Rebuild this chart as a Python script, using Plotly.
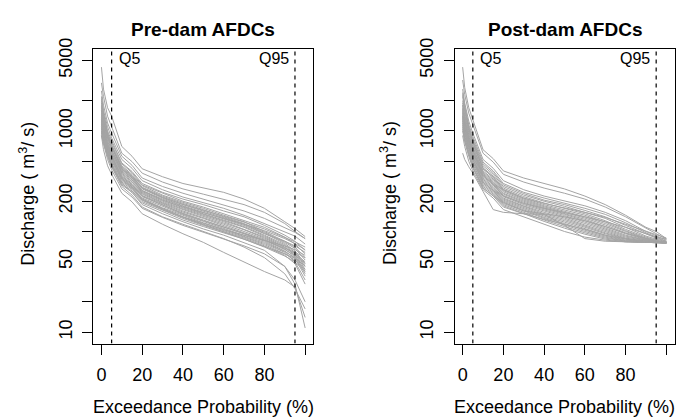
import plotly.graph_objects as go

# Exceedance probability (%) at which each curve is sampled
EXCEEDANCE = [0, 1, 3, 5, 10, 15, 20, 30, 40, 50, 60, 70, 80, 90, 95, 100]

# Pre-dam annual flow duration curves (discharge, m3/s)
PRE_DAM = [
    [4300, 2600, 1700, 1400, 700, 560, 420, 350, 300, 270, 245, 210, 170, 125, 107, 89],
    [3000, 2200, 1400, 1100, 600, 495, 380, 310, 265, 235, 210, 185, 155, 120, 100, 85],
    [2500, 1800, 1200, 950, 560, 455, 340, 280, 240, 210, 185, 160, 135, 110, 98, 85],
    [2200, 1600, 1100, 850, 520, 425, 320, 260, 220, 195, 170, 145, 120, 100, 90, 75],
    [2000, 1500, 1000, 800, 480, 395, 300, 245, 210, 185, 160, 140, 115, 92, 80, 65],
    [1900, 1400, 950, 760, 470, 385, 290, 240, 200, 175, 150, 130, 110, 88, 75, 60],
    [1800, 1300, 900, 720, 450, 370, 285, 230, 195, 170, 145, 125, 100, 80, 70, 55],
    [1700, 1250, 880, 700, 440, 360, 275, 225, 190, 165, 140, 120, 98, 78, 68, 52],
    [1600, 1200, 850, 680, 420, 350, 270, 220, 185, 160, 138, 118, 96, 76, 64, 48],
    [1500, 1150, 820, 650, 410, 340, 265, 215, 180, 155, 135, 115, 95, 80, 72, 62],
    [1450, 1100, 790, 630, 400, 330, 255, 210, 178, 150, 130, 112, 92, 74, 62, 45],
    [1400, 1050, 760, 610, 390, 325, 250, 205, 172, 148, 128, 110, 90, 72, 60, 42],
    [1350, 1000, 740, 600, 380, 315, 245, 200, 168, 145, 125, 105, 88, 70, 58, 40],
    [1300, 980, 720, 580, 370, 310, 240, 195, 165, 142, 122, 104, 86, 69, 60, 50],
    [1250, 950, 700, 560, 360, 300, 235, 192, 160, 138, 118, 100, 84, 67, 56, 38],
    [1200, 920, 680, 540, 350, 293, 228, 188, 156, 135, 115, 98, 82, 66, 58, 48],
    [1150, 900, 660, 520, 340, 285, 222, 183, 152, 130, 112, 95, 80, 64, 54, 36],
    [1100, 870, 640, 500, 330, 276, 215, 178, 148, 126, 108, 92, 78, 63, 55, 45],
    [1050, 840, 620, 480, 320, 268, 210, 172, 145, 122, 105, 90, 76, 62, 50, 33],
    [1000, 800, 600, 460, 310, 262, 205, 168, 140, 118, 102, 88, 74, 60, 52, 42],
    [950, 780, 580, 450, 300, 253, 198, 162, 135, 115, 100, 86, 72, 58, 48, 30],
    [900, 750, 560, 440, 290, 245, 192, 158, 130, 112, 97, 84, 70, 57, 50, 40],
    [1300, 950, 650, 520, 330, 270, 205, 165, 138, 117, 99, 85, 72, 60, 54, 46],
    [1600, 1100, 720, 560, 340, 278, 210, 168, 140, 120, 104, 92, 82, 72, 66, 58],
    [2100, 1500, 950, 720, 420, 340, 255, 205, 175, 155, 135, 118, 102, 85, 76, 66],
    [1750, 1300, 880, 690, 430, 355, 270, 218, 186, 162, 142, 124, 106, 88, 79, 70],
    [1350, 1000, 700, 550, 350, 292, 225, 182, 150, 128, 110, 95, 82, 68, 62, 55],
    [900, 650, 450, 370, 240, 197, 150, 118, 95, 78, 62, 50, 40, 33, 28, 14],
    [1100, 800, 560, 440, 280, 230, 175, 140, 118, 100, 85, 70, 55, 38, 27, 17],
    [1000, 750, 520, 410, 265, 220, 170, 138, 115, 98, 84, 72, 60, 45, 33, 20],
    [1200, 880, 600, 470, 300, 245, 185, 150, 125, 106, 92, 78, 65, 45, 30, 11],
]

# Post-dam annual flow duration curves (discharge, m3/s)
POST_DAM = [
    [4300, 2700, 1700, 1300, 650, 530, 400, 340, 300, 265, 225, 185, 145, 110, 100, 85],
    [3200, 2300, 1500, 1150, 600, 490, 370, 310, 270, 240, 210, 175, 140, 108, 95, 84],
    [2600, 1900, 1250, 950, 520, 425, 320, 260, 225, 200, 180, 155, 128, 100, 90, 82],
    [2400, 1800, 1150, 880, 490, 400, 300, 245, 215, 192, 170, 148, 122, 97, 88, 80],
    [2200, 1650, 1100, 830, 470, 385, 290, 238, 205, 185, 162, 140, 115, 94, 86, 80],
    [2000, 1550, 1050, 800, 450, 370, 280, 230, 200, 178, 155, 135, 110, 90, 84, 79],
    [1900, 1450, 1000, 760, 430, 355, 270, 222, 192, 170, 150, 128, 105, 88, 82, 78],
    [1800, 1400, 960, 730, 420, 345, 262, 215, 185, 165, 145, 124, 102, 86, 81, 78],
    [1700, 1300, 920, 700, 400, 332, 255, 210, 180, 160, 140, 120, 100, 85, 80, 78],
    [1650, 1250, 880, 680, 390, 322, 248, 205, 176, 156, 136, 116, 97, 84, 80, 78],
    [1600, 1200, 850, 650, 380, 312, 240, 200, 172, 152, 132, 112, 95, 83, 79, 78],
    [1550, 1150, 820, 630, 370, 305, 235, 195, 168, 148, 128, 108, 92, 82, 79, 78],
    [1500, 1120, 800, 610, 360, 298, 228, 190, 164, 144, 124, 105, 90, 82, 79, 78],
    [1450, 1080, 780, 590, 350, 290, 222, 185, 160, 140, 120, 102, 88, 81, 78, 78],
    [1400, 1050, 760, 570, 340, 280, 215, 180, 155, 136, 116, 100, 86, 80, 78, 77],
    [1350, 1000, 730, 550, 330, 273, 210, 176, 150, 132, 113, 97, 85, 80, 78, 77],
    [1300, 970, 700, 530, 320, 266, 205, 172, 146, 128, 110, 95, 84, 79, 78, 77],
    [1250, 940, 680, 510, 310, 258, 200, 168, 142, 124, 106, 92, 82, 79, 78, 77],
    [1200, 900, 650, 490, 300, 250, 195, 164, 138, 120, 103, 90, 81, 78, 78, 77],
    [1150, 870, 620, 470, 290, 243, 190, 160, 135, 116, 100, 88, 80, 78, 77, 77],
    [1100, 840, 600, 450, 280, 236, 185, 155, 130, 112, 97, 86, 80, 78, 77, 77],
    [1050, 800, 580, 430, 270, 229, 180, 150, 126, 108, 94, 84, 79, 78, 77, 77],
    [1800, 1300, 850, 640, 360, 295, 225, 190, 170, 155, 140, 125, 110, 95, 88, 84],
    [2300, 1700, 1050, 780, 420, 345, 260, 215, 190, 172, 155, 138, 118, 100, 92, 86],
    [1400, 1000, 700, 520, 310, 255, 195, 160, 150, 140, 128, 112, 96, 85, 81, 79],
    [600, 520, 440, 380, 250, 165, 155, 150, 148, 115, 85, 80, 79, 78, 78, 77],
    [900, 700, 500, 400, 260, 215, 165, 140, 120, 100, 88, 82, 79, 78, 77, 77],
    [1000, 780, 560, 430, 270, 225, 175, 150, 132, 118, 105, 92, 84, 79, 78, 77],
]

PANEL_TITLES = ["Pre-dam AFDCs", "Post-dam AFDCs"]
X_TICKS = [0, 20, 40, 60, 80, 100]
X_TICK_TEXT = ["0", "20", "40", "60", "80", " "]
Y_TICKS = [10, 20, 50, 100, 200, 500, 1000, 2000, 5000]
Y_TICK_TEXT = ["10", " ", "50", " ", "200", " ", "1000", " ", "5000"]
Q_LINES = [5, 95]

W, H = 681, 419
FONT = "Liberation Sans, Arial, Helvetica, sans-serif"
GRAY = "#a4a4a4"

# plot boxes in pixels
BOX_X = [(93.3, 313.3), (454.5, 674.5)]
BOX_TOP, BOX_BOT = 39.5, 341.7
Y_RANGE = [0.8865, 3.818]

fig = go.Figure()

datasets = [PRE_DAM, POST_DAM]
for i, curves in enumerate(datasets):
    xa = "x" if i == 0 else "x2"
    ya = "y" if i == 0 else "y2"
    for c in curves:
        fig.add_trace(go.Scatter(x=EXCEEDANCE, y=c, mode="lines",
                                 line=dict(color=GRAY, width=1),
                                 xaxis=xa, yaxis=ya, showlegend=False,
                                 hoverinfo="skip"))
    for q in Q_LINES:
        fig.add_trace(go.Scatter(x=[q, q], y=[10 ** Y_RANGE[0], 10 ** Y_RANGE[1]], mode="lines",
                                 line=dict(color="black", width=1.2, dash="4px,4px"),
                                 xaxis=xa, yaxis=ya, showlegend=False,
                                 hoverinfo="skip"))

ydom = [1 - BOX_BOT / H, 1 - BOX_TOP / H]
common_x = dict(range=[-4, 104], tickvals=X_TICKS, ticktext=X_TICK_TEXT,
                showline=True, mirror=True, linecolor="black", linewidth=1,
                ticks="outside", ticklen=10, tickcolor="black", tickwidth=1,
                showgrid=False, zeroline=False, ticklabelstandoff=5,
                tickfont=dict(family=FONT, size=18, color="black"))
common_y = dict(type="log", range=Y_RANGE, tickvals=Y_TICKS,
                ticktext=Y_TICK_TEXT, tickangle=-90,
                showline=True, mirror=True, linecolor="black", linewidth=1,
                ticks="outside", ticklen=10, tickcolor="black", tickwidth=1,
                showgrid=False, zeroline=False, ticklabelstandoff=3,
                tickfont=dict(family=FONT, size=18, color="black"))

fig.update_layout(
    xaxis=dict(domain=[BOX_X[0][0] / W, BOX_X[0][1] / W], anchor="y", **common_x),
    yaxis=dict(domain=ydom, anchor="x", **common_y),
    xaxis2=dict(domain=[BOX_X[1][0] / W, BOX_X[1][1] / W], anchor="y2", **common_x),
    yaxis2=dict(domain=ydom, anchor="x2", **common_y),
)

annotations = []
for i in range(2):
    x0, x1 = BOX_X[i]
    cx = (x0 + x1) / 2 / W
    xr = "x" if i == 0 else "x2"
    annotations.append(dict(text="<b>" + PANEL_TITLES[i] + "</b>", xref="paper", yref="paper",
                            x=cx, y=1 - 19.5 / H, xanchor="center", yanchor="middle",
                            showarrow=False, font=dict(family=FONT, size=19, color="black")))
    annotations.append(dict(text="Exceedance Probability (%)", xref="paper", yref="paper",
                            x=cx, y=1 - 406.5 / H, xanchor="center", yanchor="middle",
                            showarrow=False, font=dict(family=FONT, size=18, color="black")))
    annotations.append(dict(text="Discharge ( m<sup>3</sup>/ s)", xref="paper", yref="paper",
                            x=(x0 - 66) / W, y=1 - 188 / H, xanchor="center", yanchor="middle",
                            textangle=-90, showarrow=False,
                            font=dict(family=FONT, size=18, color="black")))
    annotations.append(dict(text="Q5", xref=xr, yref="paper", x=Q_LINES[0], xshift=5,
                            y=1 - 50 / H, xanchor="left", yanchor="middle", showarrow=False,
                            font=dict(family=FONT, size=16, color="black")))
    annotations.append(dict(text="Q95", xref=xr, yref="paper", x=Q_LINES[1], xshift=-4,
                            y=1 - 50 / H, xanchor="right", yanchor="middle", showarrow=False,
                            font=dict(family=FONT, size=16, color="black")))

fig.update_layout(annotations=annotations, width=W, height=H, autosize=False,
                  margin=dict(l=0, r=0, t=0, b=0),
                  paper_bgcolor="white", plot_bgcolor="white")

fig.write_html("out.html")
